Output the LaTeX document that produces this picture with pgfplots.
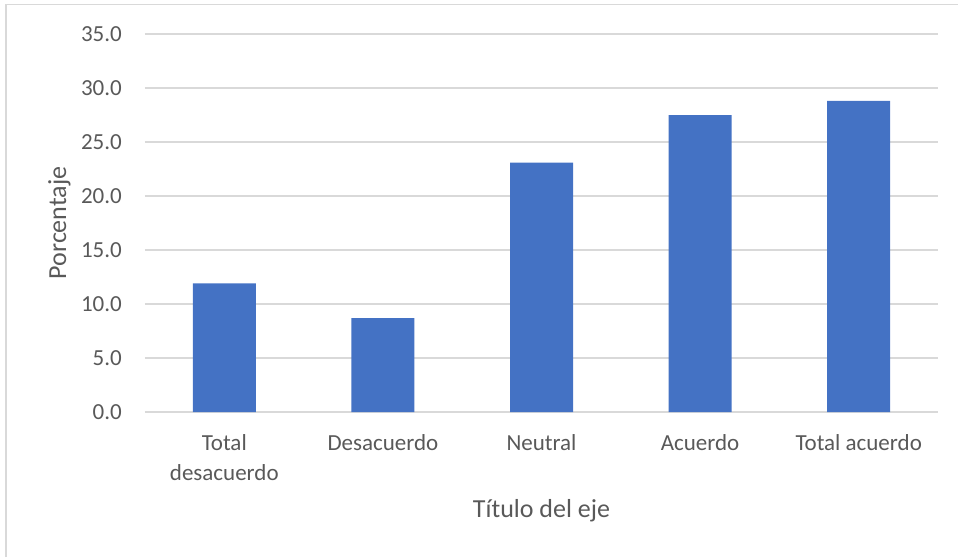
\documentclass[border=0pt]{standalone}
\usepackage{pgfplots}
\pgfplotsset{compat=1.18}
\usepackage{fontspec}
\setmainfont{Carlito}
\definecolor{barblue}{HTML}{4472C4}
\definecolor{gridgray}{HTML}{D9D9D9}
\definecolor{txtgray}{HTML}{595959}

\begin{document}
\begin{tikzpicture}
\begin{axis}[
    at={(0pt,0pt)}, anchor=south west,
    scale only axis,
    width=793pt, height=378pt,
    xmin=-0.5, xmax=4.5,
    ymin=0, ymax=35,
    xtick={0,...,4},
    xticklabels={{Total\\desacuerdo},Desacuerdo,Neutral,Acuerdo,Total acuerdo},
    ytick={0,5,...,35},
    major tick length=0pt,
    axis line style={draw=none},
    ymajorgrids,
    grid style={gridgray, line width=1.3pt},
    /pgf/number format/assume math mode=true,
    yticklabel={\pgfmathprintnumber[fixed,fixed zerofill,precision=1]{\tick}},
    tick label style={font=\fontsize{23}{30}\selectfont, text=txtgray, inner sep=0pt},
    yticklabel style={anchor=east, xshift=-23pt},
    xticklabel style={anchor=north, align=center, yshift=-22pt},
    xlabel={Título del eje},
    ylabel={Porcentaje},
    label style={font=\fontsize{26}{30}\selectfont, text=txtgray},
    xlabel style={at={(axis description cs:0.5,-0.2804)}, anchor=base},
    ylabel style={at={(axis description cs:-0.0996,0.5)}, anchor=base},
]
% share of answers per category
\addplot[ybar, bar width=63pt, fill=barblue, draw=none] coordinates {
    (0, 11.9) (1, 8.7) (2, 23.1) (3, 27.5) (4, 28.8)
};
\end{axis}
\draw[gridgray, line width=1.3pt] (-139pt,-145pt) -- (-139pt,407.5pt) -- (813pt,407.5pt);
\pgfresetboundingbox
\useasboundingbox (-145pt,-145pt) rectangle (813pt,412pt);
\end{tikzpicture}
\end{document}
